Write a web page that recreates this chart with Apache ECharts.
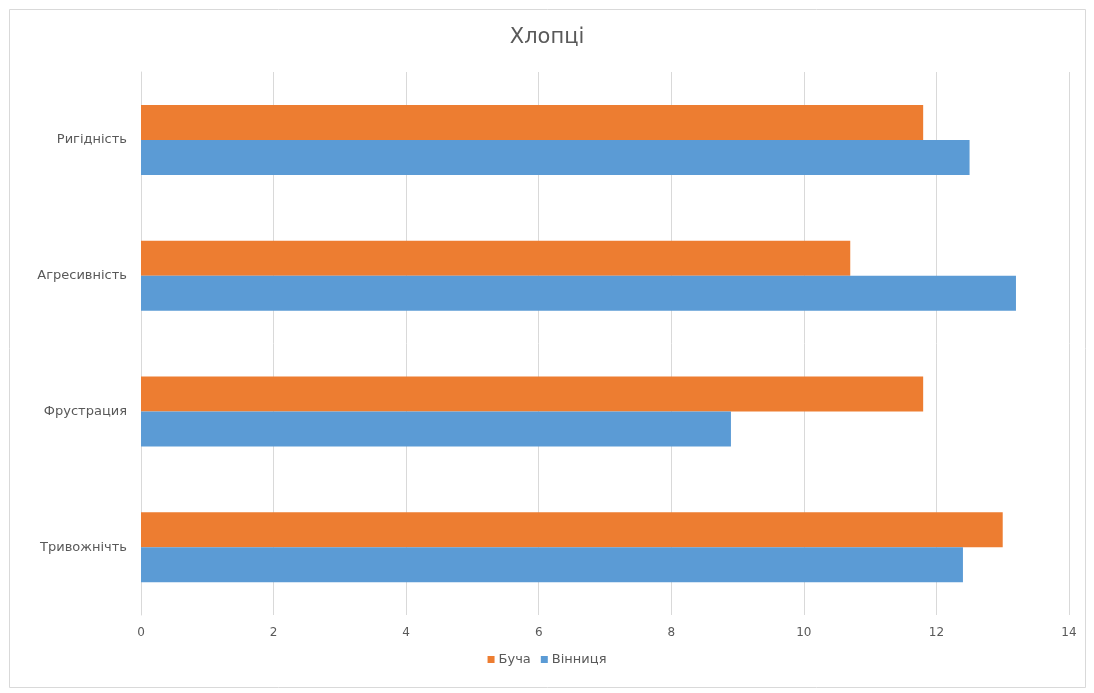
<!DOCTYPE html>
<html>
<head>
<meta charset="utf-8">
<script src="https://cdn.jsdelivr.net/npm/echarts@6/dist/echarts.min.js"></script>
<style>
    html, body { margin: 0; padding: 0; background: #ffffff; }
    #chart { width: 1094px; height: 693px; }
</style>
</head>
<body>
<div id="chart"></div>
<script>
    // categories go from bottom to top
    var kategorii = ['Тривожнічть', 'Фрустрация', 'Агресивність', 'Ригідність'];
    var bucha = [13.0, 11.8, 10.7, 11.8];
    var vinnytsia = [12.4, 8.9, 13.2, 12.5];
    var tyky = [0, 2, 4, 6, 8, 10, 12, 14];

    var shryft = "'DejaVu Sans', 'Noto Sans', sans-serif";

    var chart = echarts.init(document.getElementById('chart'));
    chart.setOption({
        backgroundColor: '#ffffff',
        animation: false,
        title: {
            text: 'Хлопці',
            left: 'center',
            top: 22,
            textStyle: { color: '#595959', fontSize: 21, fontWeight: 'normal', fontFamily: shryft }
        },
        graphic: [{
            type: 'rect',
            shape: { x: 9.5, y: 9.5, width: 1076, height: 678 },
            style: { fill: 'none', stroke: '#d9d9d9', lineWidth: 1 },
            silent: true
        }],
        legend: {
            data: ['Буча', 'Вінниця'],
            top: 648,
            left: 'center',
            itemWidth: 7,
            itemHeight: 7,
            itemGap: 10,
            icon: 'rect',
            textStyle: { color: '#595959', fontSize: 13, fontFamily: shryft, padding: [0, 0, 0, -1] }
        },
        grid: { left: 141, right: 25, top: 72, bottom: 78 },
        xAxis: {
            type: 'value',
            min: tyky[0],
            max: tyky[tyky.length - 1],
            interval: 2,
            axisLine: { show: false },
            axisTick: { show: false },
            axisLabel: { color: '#595959', fontSize: 12, margin: 12, fontFamily: shryft },
            splitLine: { lineStyle: { color: '#d9d9d9', width: 1 } }
        },
        yAxis: {
            type: 'category',
            data: kategorii,
            axisLine: { show: true, lineStyle: { color: '#d9d9d9' } },
            axisTick: { show: false },
            axisLabel: { color: '#595959', fontSize: 13, margin: 14, fontFamily: shryft }
        },
        series: [{
            name: 'Буча',
            type: 'bar',
            data: bucha,
            barWidth: 35,
            barGap: '0%',
            itemStyle: { color: '#ED7D31' }
        }, {
            name: 'Вінниця',
            type: 'bar',
            data: vinnytsia,
            barWidth: 35,
            barGap: '0%',
            itemStyle: { color: '#5B9BD5' }
        }]
    });
</script>
</body>
</html>
